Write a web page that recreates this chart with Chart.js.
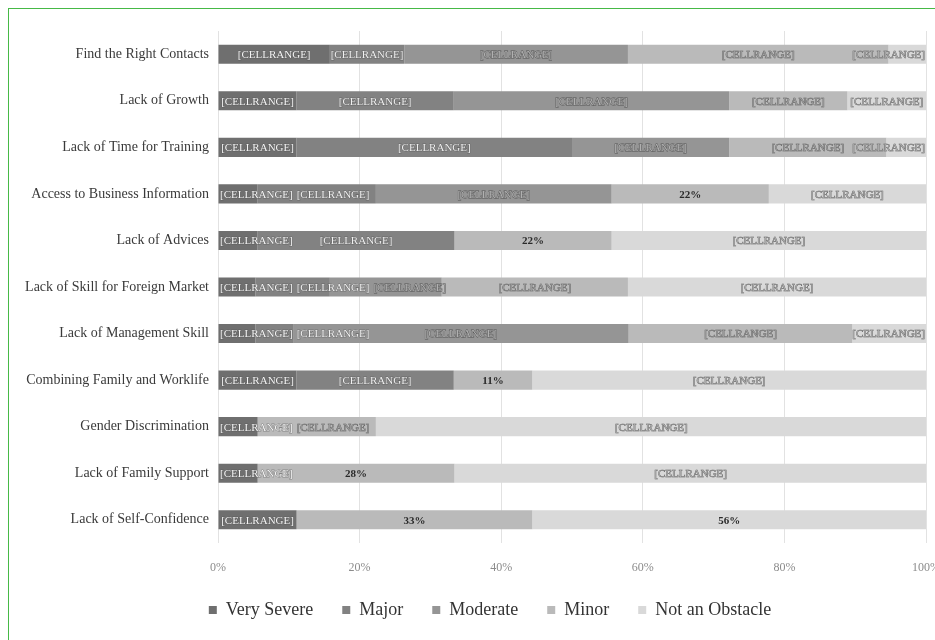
<!DOCTYPE html>
<html>
<head>
<meta charset="utf-8">
<script src="https://cdn.jsdelivr.net/npm/chart.js@4/dist/chart.umd.min.js"></script>
<style>
  html, body { margin: 0; padding: 0; background: #ffffff; overflow: hidden; width: 935px; height: 640px; }
  #wrap { position: relative; width: 935px; height: 640px; overflow: hidden; }
  #c { position: absolute; left: 0; top: 0; }
  #frame { position: absolute; left: 8px; top: 8px; width: 960px; height: 640px; border-left: 1px solid #46b946; border-top: 1px solid #46b946; pointer-events: none; }
</style>
</head>
<body>
<div id="wrap">
  <canvas id="c" width="958" height="640"></canvas>
  <div id="frame"></div>
</div>
<script>
const categories = [
  'Find the Right Contacts',
  'Lack of Growth',
  'Lack of Time for Training',
  'Access to Business Information',
  'Lack of Advices',
  'Lack of Skill for Foreign Market',
  'Lack of Management Skill',
  'Combining Family and Worklife',
  'Gender Discrimination',
  'Lack of Family Support',
  'Lack of Self-Confidence'
];
const seriesNames = ['Very Severe', 'Major', 'Moderate', 'Minor', 'Not an Obstacle'];

const verySevere = [15.8, 11.1, 11.1, 5.6, 5.6, 5.3, 5.3, 11.1, 5.6, 5.6, 11.1];
const major      = [10.5, 22.2, 38.9, 16.7, 27.8, 10.5, 5.3, 22.2, 0, 0, 0];
const moderate   = [31.6, 38.9, 22.2, 33.3, 0, 15.8, 47.4, 0, 0, 0, 0];
const minor      = [36.8, 16.7, 22.2, 22.2, 22.2, 26.3, 31.6, 11.1, 16.7, 27.8, 33.3];
const notObstacle= [5.3, 11.1, 5.6, 22.2, 44.4, 42.1, 10.5, 55.6, 77.8, 66.7, 55.6];

const CR = '[CELLRANGE]';
const labelsVerySevere = [CR, CR, CR, CR, CR, CR, CR, CR, CR, CR, CR];
const labelsMajor      = [CR, CR, CR, CR, CR, CR, CR, CR, '', '', ''];
const labelsModerate   = [CR, CR, CR, CR, '', CR, CR, '', '', '', ''];
const labelsMinor      = [CR, CR, CR, '22%', '22%', CR, CR, '11%', CR, '28%', '33%'];
const labelsNot        = [CR, CR, CR, CR, CR, CR, CR, CR, CR, CR, '56%'];

const xTicks = [0, 20, 40, 60, 80, 100];

const colors = ['#6f6f6f', '#828282', '#959595', '#bababa', '#d9d9d9'];
const labelFill = ['#f4f4f4', '#f0f0f0', '#b0b0b0', '#9a9a9a', '#a8a8a8'];
const seriesValues = [verySevere, major, moderate, minor, notObstacle];
const seriesLabels = [labelsVerySevere, labelsMajor, labelsModerate, labelsMinor, labelsNot];

const SERIF = '"Liberation Serif", "Times New Roman", serif';
const PLOT_BOTTOM = 543;
const LEGEND_CENTER_Y = 610;
const LEGEND_CENTER_X = 490;

const segLabels = {
  id: 'segLabels',
  afterLayout(chart) {
    const lg = chart.legend;
    if (!lg) return;
    const pad = lg.options.labels.padding;
    const fs = lg.options.labels.font.size;
    const dy = (lg.top + pad + fs / 2) - LEGEND_CENTER_Y;
    lg.top -= dy; lg.bottom -= dy;
    const dx = LEGEND_CENTER_X - (lg.left + lg.right) / 2;
    lg.left += dx; lg.right += dx;
  },
  afterDatasetsDraw(chart) {
    const ctx = chart.ctx;
    const area = chart.chartArea;
    ctx.save();
    ctx.textBaseline = 'middle';
    ctx.textAlign = 'left';
    categories.forEach((c, i) => {
      let prevRight = -Infinity;
      chart.data.datasets.forEach((ds, d) => {
        const v = ds.data[i];
        const text = seriesLabels[d][i];
        if (!v || !text) return;
        const el = chart.getDatasetMeta(d).data[i];
        const left = Math.min(el.x, el.base), right = Math.max(el.x, el.base);
        const isCR = text === CR;
        ctx.font = (isCR ? '' : 'bold ') + '11px ' + SERIF;
        const w = ctx.measureText(text).width;
        let x0 = (left + right) / 2 - w / 2;
        x0 = Math.max(x0, area.left + 2, prevRight + 4);
        x0 = Math.min(x0, area.right - 1 - w);
        const y = el.y + 1;
        if (isCR) {
          ctx.lineWidth = d === 2 ? 0.8 : 0.6;
          ctx.strokeStyle = '#555555';
          ctx.strokeText(text, x0, y);
          ctx.fillStyle = labelFill[d];
          ctx.fillText(text, x0, y);
        } else {
          ctx.fillStyle = '#2a2a2a';
          ctx.fillText(text, x0, y);
        }
        prevRight = x0 + w;
      });
    });
    ctx.restore();
  }
};

new Chart(document.getElementById('c'), {
  type: 'bar',
  data: {
    labels: categories,
    datasets: seriesNames.map((n, k) => ({
      label: n,
      data: seriesValues[k],
      backgroundColor: colors[k],
      borderWidth: 0,
      categoryPercentage: 1,
      barPercentage: 0.41
    }))
  },
  options: {
    indexAxis: 'y',
    responsive: false,
    animation: false,
    events: [],
    layout: { padding: { top: 31, left: 0, right: 0, bottom: 0 } },
    scales: {
      x: {
        stacked: true,
        min: 0,
        max: 100,
        afterBuildTicks(scale) { scale.ticks = xTicks.map(v => ({ value: v })); },
        afterFit(scale) {
          const lgH = scale.chart.legend ? scale.chart.legend.height : 0;
          scale.height = scale.chart.height - lgH - PLOT_BOTTOM;
        },
        ticks: {
          callback: v => v + '%',
          color: '#8c8c8c',
          font: { family: SERIF, size: 12 },
          padding: 18,
          maxRotation: 0
        },
        grid: { color: '#e2e2e2', lineWidth: 1, drawTicks: false },
        border: { display: false }
      },
      y: {
        stacked: true,
        afterFit(scale) { scale.width = 218; },
        ticks: {
          color: '#3a3a3a',
          font: { family: SERIF, size: 14 },
          padding: 9
        },
        grid: { display: false, drawTicks: false },
        border: { display: false }
      }
    },
    plugins: {
      tooltip: { enabled: false },
      legend: {
        position: 'bottom',
        labels: {
          boxWidth: 8,
          boxHeight: 8,
          padding: 29,
          color: '#333333',
          font: { family: SERIF, size: 18 }
        }
      }
    }
  },
  plugins: [segLabels]
});
</script>
</body>
</html>
